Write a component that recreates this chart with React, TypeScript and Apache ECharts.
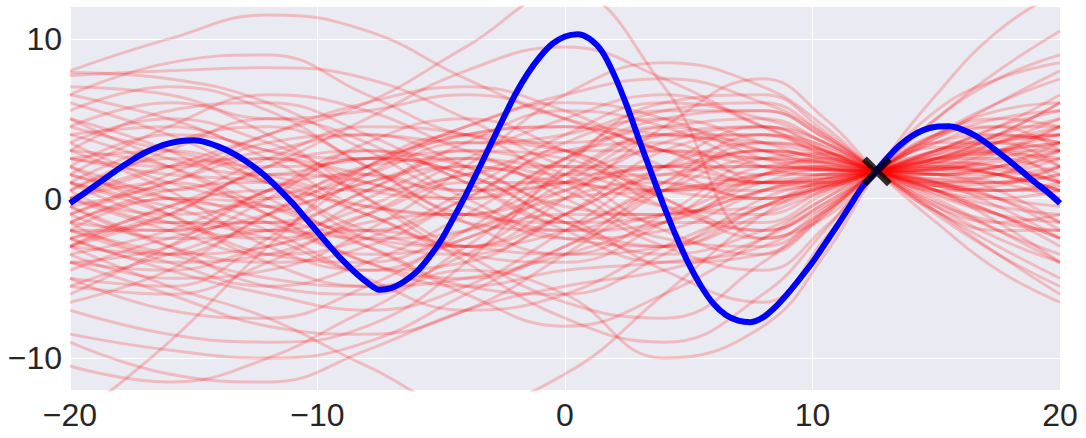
import React, { useEffect, useRef } from "react";
import * as echarts from "echarts";

const blueX = [-20,-19.5,-19,-18.5,-18,-17.5,-17,-16.5,-16,-15.5,-15,-14.5,-14,-13.5,-13,-12.5,-12,-11.5,-11,-10.5,-10,-9.5,-9,-8.5,-8,-7.5,-7,-6.5,-6,-5.5,-5,-4.5,-4,-3.5,-3,-2.5,-2,-1.5,-1,-0.5,0,0.5,1,1.5,2,2.5,3,3.5,4,4.5,5,5.5,6,6.5,7,7.5,8,8.5,9,9.5,10,10.5,11,11.5,12,12.5,13,13.5,14,14.5,15,15.5,16,16.5,17,17.5,18,18.5,19,19.5,20];
const blueY = [-0.3,0.25,0.8,1.35,1.9,2.4,2.85,3.2,3.45,3.6,3.65,3.52,3.25,2.9,2.45,1.9,1.25,0.5,-0.3,-1.2,-2.1,-3.0,-3.85,-4.6,-5.25,-5.72,-5.6,-5.2,-4.6,-3.7,-2.6,-1.2,0.25,1.8,3.4,5.0,6.55,7.85,8.9,9.7,10.15,10.3,10.0,9.2,7.7,5.8,3.65,1.55,-0.5,-2.4,-4.1,-5.5,-6.6,-7.3,-7.65,-7.75,-7.45,-6.8,-5.95,-5.0,-4.0,-2.85,-1.7,-0.5,0.7,1.6,2.5,3.3,3.9,4.3,4.5,4.52,4.35,4.0,3.5,2.9,2.3,1.65,1.0,0.4,-0.3];

const obsX = [12.6];
const obsY = [1.7];

const sampleX = [-20,-16,-12,-8,-4,0,4,8,10.5,12.6,15,17.5,20];
const samples: number[][] = [
  [7.9,7.5,6.0,3.0,0.5,1.0,3.5,4.5,3.2,1.7,0.5,0.8,2.0],
  [7.7,8.0,8.2,7.5,5.0,2.0,0.5,1.0,1.5,1.7,2.2,3.5,5.0],
  [-8.5,-9.5,-10.0,-9.0,-6.0,-3.0,-1.0,-0.5,0.6,1.7,3.0,4.5,5.5],
  [5.0,3.0,0.0,-2.5,-3.0,-1.0,2.0,3.5,2.9,1.7,0.8,0.5,0.8],
  [-2.0,-4.0,-5.5,-4.0,-1.0,2.5,5.0,5.5,3.8,1.7,-0.8,-3.0,-5.0],
  [1.0,3.5,4.5,2.0,-1.5,-3.5,-3.0,-0.5,1.0,1.7,2.5,3.5,4.0],
  [-4.0,-3.0,0.0,3.5,5.0,3.0,0.0,-2.0,-0.5,1.7,4.0,5.5,6.0],
  [3.0,5.5,6.0,4.0,1.0,-1.5,-1.0,1.5,2.0,1.7,1.0,-0.5,-2.5],
  [-3.0,-1.0,2.0,3.0,1.0,-2.0,-4.0,-3.5,-1.0,1.7,4.0,4.5,3.0],
  [0.0,-2.0,-3.5,-2.5,0.5,4.0,6.0,5.0,3.5,1.7,-0.2,-2.0,-3.5],
  [6.0,4.0,1.5,0.5,1.5,3.0,3.0,2.0,1.8,1.7,1.5,1.0,0.0],
  [-5.5,-6.0,-4.0,-1.0,1.5,2.0,0.5,0.0,0.8,1.7,2.8,3.6,4.0],
  [2.0,0.0,-2.0,-5.0,-7.0,-6.0,-3.0,-0.5,0.7,1.7,2.5,2.8,2.5],
  [-1.0,1.5,4.0,6.0,7.0,5.5,3.0,2.5,2.2,1.7,1.2,1.0,1.5],
  [4.0,2.0,-1.0,-4.0,-5.0,-3.0,1.0,4.0,3.3,1.7,0.2,-1.0,-1.5],
  [-6.5,-4.5,-1.0,2.0,2.5,0.0,-3.0,-4.5,-1.8,1.7,5.0,7.5,9.0],
  [0.5,-1.5,-1.5,0.5,3.5,5.5,4.5,2.0,1.5,1.7,2.0,1.8,1.0],
  [-2.5,-4.5,-6.0,-7.0,-5.5,-2.0,2.0,4.5,3.5,1.7,-0.5,-2.5,-4.0],
  [3.5,1.0,0.0,1.5,3.5,3.0,0.0,-2.5,-0.8,1.7,3.5,4.0,3.5],
  [-4.5,-2.5,-1.5,-3.0,-5.5,-6.0,-3.5,0.0,1.0,1.7,2.2,2.0,1.0],
  [8.0,10.0,11.5,10.5,7.5,5.0,4.0,3.5,2.7,1.7,0.5,-1.0,-2.5],
  [-9.0,-11.0,-11.5,-9.5,-7.0,-5.5,-4.5,-2.5,-0.3,1.7,3.8,6.0,8.0],
  [-1.5,0.5,1.0,-1.0,-3.5,-4.0,-1.5,2.0,2.3,1.7,0.8,0.0,-0.5],
  [2.5,3.0,1.0,-2.0,-3.0,0.0,4.5,7.5,5.0,1.7,-1.5,-4.5,-6.5],
  [-3.5,-5.0,-4.5,-2.0,2.0,6.5,8.5,7.0,4.5,1.7,-0.8,-2.0,-2.0],
  [5.5,7.0,5.5,2.0,-1.0,-1.5,0.5,1.0,1.2,1.7,2.5,4.0,6.0],
  [-0.5,-3.0,-5.5,-6.0,-3.0,1.5,4.0,3.0,2.2,1.7,1.5,2.0,3.0],
  [1.5,4.5,6.5,5.5,3.0,1.5,2.0,3.0,2.5,1.7,1.0,0.0,-1.5],
  [-5.0,-7.0,-7.5,-5.5,-2.5,-1.0,-1.0,0.5,1.2,1.7,2.0,1.5,0.0],
  [0.0,2.0,2.5,0.0,-3.5,-6.5,-7.5,-4.0,-0.8,1.7,3.8,5.0,5.5],
  [3.0,0.5,-3.0,-4.5,-2.0,2.5,5.5,6.0,4.0,1.7,-0.5,-1.5,-1.0],
  [-2.5,-0.5,2.0,5.0,8.0,9.5,7.5,4.5,3.0,1.7,0.8,1.0,2.0],
  [6.5,5.0,3.0,2.5,3.0,1.5,-2.0,-3.5,-1.0,1.7,3.5,3.5,2.0],
  [-6.0,-3.0,0.5,1.5,-0.5,-2.5,-2.0,0.5,1.5,1.7,1.5,1.5,2.0],
  [1.5,0.5,2.5,4.5,4.0,1.0,-1.5,-1.5,0.3,1.7,3.0,4.5,6.5],
  [-1.0,-2.5,-2.0,0.5,3.0,2.5,-0.5,-2.0,-0.3,1.7,3.2,3.0,1.0],
  [4.5,6.0,4.0,0.0,-4.0,-7.5,-9.0,-6.0,-2.0,1.7,5.0,8.0,10.5],
  [-3.0,-3.5,-1.0,2.0,4.5,6.5,7.5,6.0,4.0,1.7,-0.8,-3.5,-6.0],
  [2.0,-1.0,-4.0,-5.5,-5.0,-3.5,-1.5,0.5,1.3,1.7,2.3,3.5,4.5],
  [-4.0,-6.0,-8.0,-8.5,-7.0,-3.5,0.5,3.5,3.0,1.7,0.5,0.0,0.5],
  [7.0,6.5,5.0,5.5,6.5,5.0,2.0,0.0,0.8,1.7,2.5,2.5,1.5],
  [0.5,3.0,5.0,3.5,0.0,-2.0,-1.5,1.5,2.5,1.7,0.5,-1.0,-3.0],
  [-7.0,-8.5,-9.0,-8.0,-4.0,2.0,6.0,6.5,4.2,1.7,-1.0,-3.5,-5.5],
  [3.5,5.0,3.5,1.0,0.0,1.0,1.5,1.0,1.3,1.7,2.3,3.0,3.5],
  [-2.0,0.0,-0.5,-3.0,-6.0,-8.0,-6.0,-2.5,0.0,1.7,3.0,3.8,4.0],
  [1.0,-1.5,-2.5,-1.0,1.0,1.0,-0.5,-1.0,0.5,1.7,2.8,4.0,5.0],
  [-14.0,-9.0,-3.0,2.0,4.0,3.0,1.0,0.5,1.0,1.7,2.5,3.0,3.5],
  [0.0,2.0,4.0,6.0,9.5,13.0,7.0,-2.5,-1.2,1.7,4.0,5.0,4.5],
  [-10.5,-11.5,-10.0,-7.0,-4.5,-6.0,-10.0,-8.0,-3.5,1.7,6.5,10.5,13.0],
  [6.5,8.5,9.0,6.5,4.0,3.5,4.5,5.0,3.5,1.7,0.0,-2.0,-4.0],
  [-3.0,-5.5,-7.5,-10.5,-13.0,-11.0,-6.0,-1.0,0.8,1.7,2.0,1.5,0.5],
  [2.5,2.0,3.0,4.0,3.5,4.0,5.5,5.5,3.8,1.7,-0.3,-1.5,-2.0],
  [-1.5,-3.5,-3.0,0.0,2.0,0.5,-2.5,-3.0,-0.8,1.7,4.0,6.0,7.5],
  [4.0,4.5,2.5,-0.5,-1.0,1.5,4.0,4.0,2.8,1.7,0.8,0.5,1.0],
  [-5.0,-5.5,-2.5,1.5,4.0,4.5,3.0,1.0,1.0,1.7,2.3,2.0,1.0],
  [0.0,1.0,-1.0,-4.0,-5.5,-4.5,-4.0,-3.0,-0.6,1.7,3.5,4.5,4.5],
  [-2.0,-2.0,0.5,3.0,2.0,-0.5,-1.0,1.0,1.8,1.7,1.5,0.5,-1.5],
  [5.0,2.5,1.5,2.5,1.5,-1.5,-3.0,-0.5,1.2,1.7,2.0,3.0,4.0],
  [-0.5,1.0,3.5,4.0,2.0,-1.0,-4.5,-6.5,-2.5,1.7,5.5,7.5,8.5],
  [1.0,-0.5,-2.0,-0.5,2.5,5.0,6.5,4.5,3.0,1.7,0.5,-1.5,-4.0],
  [-1.5,-2.0,-1.0,1.0,2.0,1.0,0.5,1.5,2.0,1.7,1.2,1.5,2.5],
  [-3.0,-1.5,-2.5,-4.5,-4.0,-1.0,1.5,2.0,1.9,1.7,1.8,2.5,3.5],
  [0.5,2.5,1.0,-2.5,-3.5,-1.0,3.0,4.0,2.7,1.7,1.0,0.0,-2.0],
  [-2.5,-1.0,1.5,1.0,-1.5,-2.0,0.5,2.5,2.3,1.7,1.0,1.5,3.0],
  [2.0,4.0,3.0,0.5,0.0,2.5,4.5,3.0,2.0,1.7,1.8,2.8,4.5],
  [-4.0,-4.5,-3.0,-2.0,-3.0,-3.5,-1.0,2.5,2.8,1.7,0.3,-1.0,-2.5],
  [1.5,0.0,-0.5,1.0,2.5,2.0,2.0,3.0,2.5,1.7,1.0,0.5,0.5],
  [-0.5,-3.0,-4.0,-3.0,0.0,3.0,3.5,1.0,0.8,1.7,3.0,4.0,3.5],
  [-2.0,-3.5,-5.0,-5.5,-3.5,0.0,1.0,0.0,0.7,1.7,2.5,3.0,3.0],
  [3.0,2.0,-0.5,-2.0,0.0,3.5,5.0,3.5,2.3,1.7,1.5,2.0,3.5],
  [-3.5,-2.0,0.5,2.5,1.5,-1.5,-3.5,-2.0,0.0,1.7,3.0,3.5,3.0],
  [1.0,-1.0,-3.5,-4.0,-2.0,0.0,0.5,1.5,1.8,1.7,1.6,2.0,2.5],
  [-1.0,1.0,2.5,1.5,0.5,1.5,3.0,2.5,1.9,1.7,1.9,3.0,4.5],
  [-2.5,-4.0,-3.5,-1.5,-1.0,-2.5,-3.0,-1.0,0.5,1.7,2.7,3.0,2.0],
  [4.5,3.0,2.0,2.5,4.0,4.5,3.0,1.5,1.5,1.7,1.9,1.5,0.5],
  [-5.5,-3.5,-2.0,-2.5,-2.0,1.0,4.0,4.5,3.0,1.7,0.5,-0.5,-1.0],
  [0.0,-1.0,0.0,2.0,4.5,6.0,5.0,2.5,1.8,1.7,1.8,1.5,0.5],
  [-1.5,0.0,-1.5,-3.5,-2.5,0.5,2.0,1.0,1.0,1.7,2.5,4.0,6.0],
  [2.5,1.5,1.0,-1.0,-3.0,-2.0,1.0,3.0,2.6,1.7,1.0,1.0,1.5],
  [-3.0,-0.5,0.5,-0.5,-1.0,0.5,2.0,2.0,1.8,1.7,1.8,2.3,3.0],
];

const xTicks = [-20, -10, 0, 10, 20];
const yTicks = [-10, 0, 10];

const fmt = (v: number) => (v < 0 ? "\u2212" + Math.abs(v) : String(v));

export default function App() {
  const ref = useRef<HTMLDivElement>(null);
  useEffect(() => {
    if (!ref.current) return;
    const chart = echarts.init(ref.current, undefined, { renderer: "svg" });
    const redSeries = samples.map((s) => ({
      type: "line",
      data: sampleX.map((x, i) => [x, s[i]]),
      smooth: 0.45,
      showSymbol: false,
      symbol: "none",
      clip: true,
      lineStyle: { color: "rgba(255,0,0,0.2)", width: 3 },
      z: 2,
      silent: true,
    }));
    const labelStyle = {
      fontSize: 32,
      color: "#262626",
      fontFamily: "Liberation Sans",
      formatter: fmt,
    };
    chart.setOption({
      animation: false,
      backgroundColor: "#ffffff",
      grid: { left: 70, right: 26, top: 7, bottom: 48, backgroundColor: "#EAEAF2", show: true, borderWidth: 0 },
      xAxis: {
        type: "value",
        min: -20,
        max: 20,
        interval: 10,
        axisLine: { show: false },
        axisTick: { show: false, customValues: xTicks },
        splitLine: { show: true, lineStyle: { color: "#ffffff", width: 1 } },
        axisLabel: { ...labelStyle, margin: 9, customValues: xTicks },
      },
      yAxis: {
        type: "value",
        min: -12,
        max: 12,
        axisLine: { show: false },
        axisTick: { show: false, customValues: yTicks },
        splitLine: { show: true, lineStyle: { color: "#ffffff", width: 1 } },
        axisLabel: { ...labelStyle, margin: 8, customValues: yTicks },
      },
      series: [
        ...redSeries,
        {
          type: "line",
          data: blueX.map((x, i) => [x, blueY[i]]),
          smooth: 0.3,
          showSymbol: false,
          symbol: "none",
          lineStyle: { color: "#0000ff", width: 6 },
          z: 5,
        },
        {
          type: "scatter",
          data: obsX.map((x, i) => [x, obsY[i]]),
          symbol: "path://M0,0L10,10M10,0L0,10",
          symbolSize: 25,
          itemStyle: { color: "none", borderColor: "#000000", borderWidth: 7 },
          z: 10,
        },
      ],
    });
    return () => chart.dispose();
  }, []);
  return (
    <div
      ref={ref}
      style={{ position: "fixed", left: 0, top: 0, width: 1086, height: 438 }}
    />
  );
}
